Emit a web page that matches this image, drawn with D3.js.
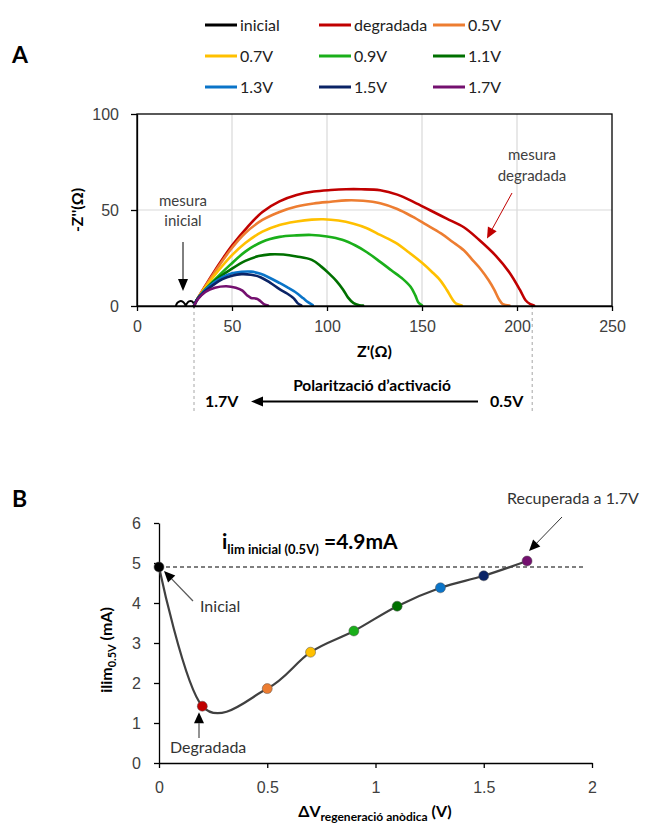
<!DOCTYPE html>
<html>
<head>
<meta charset="utf-8">
<script src="https://cdn.jsdelivr.net/npm/d3@7"></script>
<style>
  body { margin: 0; background: #fff; }
  svg { display: block; font-family: Lato, "Open Sans", sans-serif; }
</style>
</head>
<body>
<svg id="chart" width="649" height="827"></svg>
<script>
// ---------- Panel A: Nyquist spectra ----------
const seriesNames  = ["inicial", "degradada", "0.5V", "0.7V", "0.9V", "1.1V", "1.3V", "1.5V", "1.7V"];
const seriesColors = ["#000000", "#C00000", "#ED7D31", "#FFC000", "#1AAF1A", "#007000", "#0A74C8", "#0B2466", "#74106F"];

// [Z' (Ω), -Z'' (Ω)]
const zInicial = [[20.5,0.2],[21.2,1.6],[22.6,2.5],[24.2,2.2],[25.2,1.0],[25.6,0.1],[26.2,1.2],[27.4,2.4],[29.0,2.4],[29.9,1.2],[30.2,0.1]];
const zDegradada = [[30,0],[31.4,3],[35,9],[40,17],[45,24.5],[50,31.5],[58,41],[66,49],[75,54.5],[84,57.8],[93,59.6],[102,60.4],[110,60.8],[118,60.8],[128,60.3],[137,58],[146,54],[154,50],[163,45.5],[172,41],[180,34.5],[189,26],[196,17.5],[201.5,8.5],[204.5,3],[207,1],[209,0.3]];
const z05 = [[30,0],[31.4,3],[35,8.8],[40,16.3],[49,29],[57,38],[66,44.8],[75,49],[84,51.8],[93,53.4],[102,54.3],[110,55],[119,54.8],[128,53.5],[137,50.5],[145,46.5],[152,42.5],[160,37.8],[166,33.5],[172,29],[177,23.5],[181,19],[185,13.5],[188,8.5],[190.5,3.5],[192.5,1],[196,0.3]];
const z07 = [[30,0],[31.4,3],[35,8.5],[40,15],[49,25.5],[57,32.8],[66,38.7],[75,42.2],[84,44],[92,45],[98,45.2],[106,44.5],[114,42.8],[121,40.5],[128,37],[136,33],[143,28],[150,22.5],[155,18],[159.5,13.5],[163,8.5],[166,3.5],[168,1.2],[171,0.3]];
const z09 = [[30,0],[31.4,3],[35,7.5],[40,12.8],[49,21.4],[57,28.3],[66,33.5],[75,36],[84,36.8],[92,37],[100,36.2],[108,34.5],[115,31.5],[121,28],[128,23],[134,18.5],[140,14],[144,10],[146.5,5.5],[148,2],[150,0.3]];
const z11 = [[30,0],[31.4,3],[36,8.5],[42,14],[49,18.8],[57,23.5],[64,26],[70,26.9],[77,26.8],[84,25.8],[92,24],[97,20.5],[101,17],[105,13],[108.5,8.5],[111,4.5],[114,1.5],[117,0.4],[119,0.2]];
const z13 = [[30,0],[31.4,3],[35,7.5],[40,11.8],[45,15],[50,17],[55,17.8],[60,17.9],[65,16.8],[70,14.6],[75,12],[79,9.8],[84,6.8],[87.5,4],[90,2],[92.5,0.4]];
const z15 = [[30,0],[31.4,3],[35,7],[40,10.9],[45,14],[50,15.8],[55,16.6],[60,16.3],[65,15],[70,12.2],[75,8.8],[79,6.5],[82.5,4],[84.5,1.5],[86.5,0.3]];
const z17 = [[30,0],[32,3.5],[36,7.3],[41,9.5],[47,10.3],[52,9.5],[55.5,8],[58,5.5],[60,4.2],[63,3.8],[65,2.5],[67,0.8],[69,0.2]];
const nyquistSeries = [zInicial, zDegradada, z05, z07, z09, z11, z13, z15, z17];

const xTicksA = [0, 50, 100, 150, 200, 250];
const yTicksA = [0, 50, 100];
const polarisationStart = 208;   // Z' bound of the 0.5V-side guide
const polarisationEnd = 30;      // Z' bound of the 1.7V-side guide

// ---------- Panel B: limiting current vs regeneration voltage ----------
const deltaV = [0, 0.2, 0.5, 0.7, 0.9, 1.1, 1.3, 1.5, 1.7];
const ilim   = [4.9, 1.42, 1.86, 2.77, 3.3, 3.92, 4.38, 4.68, 5.05];
const pointColors = ["#000000", "#C00000", "#ED7D31", "#FFC000", "#1AAF1A", "#007000", "#0A74C8", "#0B2466", "#74106F"];
const xTicksB = [0, 0.5, 1, 1.5, 2];
const yTicksB = [0, 1, 2, 3, 4, 5, 6];
const ilimInicial = 4.9;

const svg = d3.select("#chart");
const tickColor = "#404040";

function arrow(g, x1, y1, x2, y2, opts) {
  const o = Object.assign({ color: "#000", head: "#000", width: 1, len: 10, half: 4.5 }, opts);
  const a = Math.atan2(y2 - y1, x2 - x1);
  const bx = x2 - o.len * Math.cos(a), by = y2 - o.len * Math.sin(a);
  g.append("line").attr("x1", x1).attr("y1", y1).attr("x2", bx).attr("y2", by)
    .attr("stroke", o.color).attr("stroke-width", o.width);
  const px = -Math.sin(a) * o.half, py = Math.cos(a) * o.half;
  g.append("path")
    .attr("d", `M${x2},${y2}L${bx + px},${by + py}L${bx - px},${by - py}Z`)
    .attr("fill", o.head);
}

// ===== Panel A =====
const xA = d3.scaleLinear().domain([0, 250]).range([137, 612]);
const yA = d3.scaleLinear().domain([0, 100]).range([306, 114]);
const gA = svg.append("g");

svg.append("text").attr("x", 12).attr("y", 63).attr("font-size", 23).attr("font-weight", 700).text("A");

// legend
const legend = svg.append("g");
seriesNames.forEach((name, i) => {
  const col = i % 3, row = Math.floor(i / 3);
  const lx = 205 + col * 114, ly = 25 + row * 31;
  legend.append("line").attr("x1", lx).attr("x2", lx + 32).attr("y1", ly).attr("y2", ly)
    .attr("stroke", seriesColors[i]).attr("stroke-width", 3);
  legend.append("text").attr("x", lx + 35).attr("y", ly + 5.5).attr("font-size", 16)
    .attr("fill", "#222").text(name);
});

// grid
gA.append("g").selectAll("line").data(xTicksA.slice(1, -1)).join("line")
  .attr("x1", d => xA(d)).attr("x2", d => xA(d)).attr("y1", yA(0)).attr("y2", yA(100))
  .attr("stroke", "#d9d9d9").attr("stroke-width", 1.2);
gA.append("g").selectAll("line").data(yTicksA.slice(1, -1)).join("line")
  .attr("x1", xA(0)).attr("x2", xA(250)).attr("y1", d => yA(d)).attr("y2", d => yA(d))
  .attr("stroke", "#d9d9d9").attr("stroke-width", 1.2);

// guides for the activation polarisation range
[polarisationEnd, polarisationStart].forEach(v => {
  gA.append("line").attr("x1", xA(v)).attr("x2", xA(v)).attr("y1", yA(0)).attr("y2", 413)
    .attr("stroke", "#a6a6a6").attr("stroke-width", 1).attr("stroke-dasharray", "3,3");
});

// curves
const lineA = d3.line().x(d => xA(d[0])).y(d => yA(d[1])).curve(d3.curveCatmullRom);
nyquistSeries.forEach((s, i) => {
  gA.append("path").attr("d", lineA(s)).attr("fill", "none")
    .attr("stroke", seriesColors[i]).attr("stroke-width", i === 0 ? 2 : 2.6)
    .attr("stroke-linejoin", "round").attr("stroke-linecap", "round");
});

// frame and axes
gA.append("rect").attr("x", xA(0)).attr("y", yA(100)).attr("width", xA(250) - xA(0)).attr("height", yA(0) - yA(100))
  .attr("fill", "none").attr("stroke", "#000").attr("stroke-width", 1.3);
const axYA = gA.append("g").attr("transform", `translate(${xA(0)},0)`)
  .call(d3.axisLeft(yA).tickValues(yTicksA).tickSize(6).tickSizeOuter(0).tickPadding(12));
const axXA = gA.append("g").attr("transform", `translate(0,${yA(0)})`)
  .call(d3.axisBottom(xA).tickValues(xTicksA).tickSize(5).tickSizeOuter(0).tickPadding(10));
[axYA, axXA].forEach(ax => {
  ax.select(".domain").attr("stroke", "#000").attr("stroke-width", 1.3);
  ax.selectAll(".tick line").attr("stroke", "#000").attr("stroke-width", 1.3);
  ax.selectAll("text").attr("font-size", 16).attr("fill", tickColor).attr("font-family", null);
});
axYA.selectAll("text").attr("dy", "0.36em");

svg.append("text").attr("transform", `translate(83,${(yA(0) + yA(100)) / 2}) rotate(-90)`)
  .attr("text-anchor", "middle").attr("font-size", 16).attr("font-weight", 700).text("-Z''(Ω)");
svg.append("text").attr("x", (xA(0) + xA(250)) / 2).attr("y", 357).attr("text-anchor", "middle")
  .attr("font-size", 16).attr("font-weight", 700).text("Z'(Ω)");

// polarisation arrow
svg.append("text").attr("x", 372).attr("y", 390.5).attr("text-anchor", "middle")
  .attr("font-size", 15.5).attr("font-weight", 700).text("Polarització d’activació");
svg.append("text").attr("x", 205).attr("y", 407).attr("font-size", 16).attr("font-weight", 700).text("1.7V");
svg.append("text").attr("x", 490).attr("y", 407).attr("font-size", 16).attr("font-weight", 700).text("0.5V");
arrow(svg, 478, 401.5, 251, 401.5, { width: 2, len: 12, half: 5 });

// annotations
const annA = svg.append("g").attr("font-size", 15).attr("fill", "#404040").attr("text-anchor", "middle");
annA.append("text").attr("x", 183).attr("y", 206).text("mesura");
annA.append("text").attr("x", 183).attr("y", 226).text("inicial");
arrow(svg, 183, 242, 183, 291, { width: 1, len: 12, half: 5 });
annA.append("text").attr("x", 532).attr("y", 160).text("mesura");
annA.append("text").attr("x", 532).attr("y", 181).text("degradada");
arrow(svg, 512, 193, 487, 238.5, { color: "#C00000", head: "#C00000", width: 1, len: 11, half: 5 });

// ===== Panel B =====
const xB = d3.scaleLinear().domain([0, 2]).range([159, 592]);
const yB = d3.scaleLinear().domain([0, 6]).range([763, 523]);
const gB = svg.append("g");

svg.append("text").attr("x", 12).attr("y", 507).attr("font-size", 23).attr("font-weight", 700).text("B");

const axYB = gB.append("g").attr("transform", `translate(${xB(0)},0)`)
  .call(d3.axisLeft(yB).tickValues(yTicksB).tickSize(5).tickSizeOuter(0).tickPadding(13).tickFormat(d3.format("d")));
const axXB = gB.append("g").attr("transform", `translate(0,${yB(0)})`)
  .call(d3.axisBottom(xB).tickValues(xTicksB).tickSize(5).tickSizeOuter(0).tickPadding(14).tickFormat(d => String(d)));
[axYB, axXB].forEach(ax => {
  ax.select(".domain").attr("stroke", "#000").attr("stroke-width", 1.3);
  ax.selectAll(".tick line").attr("stroke", "#000").attr("stroke-width", 1.3);
  ax.selectAll("text").attr("font-size", 16).attr("fill", tickColor).attr("font-family", null);
});
axYB.selectAll("text").attr("dy", "0.36em");

// reference current
gB.append("line").attr("x1", xB(0)).attr("x2", 585).attr("y1", yB(ilimInicial)).attr("y2", yB(ilimInicial))
  .attr("stroke", "#000").attr("stroke-width", 1.2).attr("stroke-dasharray", "4,3");

const pts = deltaV.map((v, i) => [v, ilim[i]]);
gB.append("path")
  .attr("d", d3.line().x(d => xB(d[0])).y(d => yB(d[1])).curve(d3.curveCardinal.tension(0))(pts))
  .attr("fill", "none").attr("stroke", "#404040").attr("stroke-width", 2.2);
gB.append("g").selectAll("circle").data(pts).join("circle")
  .attr("cx", d => xB(d[0])).attr("cy", d => yB(d[1])).attr("r", 5)
  .attr("fill", (d, i) => pointColors[i]).attr("stroke", "#555").attr("stroke-width", 0.5);

// i_lim label
const il = svg.append("text").attr("x", 222).attr("y", 549).attr("font-weight", 700).attr("fill", "#000");
il.append("tspan").attr("font-size", 21).text("i");
il.append("tspan").attr("font-size", 13).attr("dy", 5).text("lim inicial (0.5V)");
il.append("tspan").attr("font-size", 21).attr("dy", -5).text(" =4.9mA");

// axis titles
const yt = svg.append("text").attr("transform", `translate(112,650) rotate(-90)`)
  .attr("text-anchor", "middle").attr("font-weight", 700).attr("font-size", 16);
yt.append("tspan").text("ilim");
yt.append("tspan").attr("font-size", 11).attr("dy", 4).text("0.5V");
yt.append("tspan").attr("dy", -4).text(" (mA)");

const xt = svg.append("text").attr("x", 375).attr("y", 817).attr("text-anchor", "middle").attr("font-weight", 700).attr("font-size", 16);
xt.append("tspan").text("ΔV");
xt.append("tspan").attr("font-size", 12).attr("dy", 3.5).text("regeneració anòdica");
xt.append("tspan").attr("dy", -3.5).text(" (V)");

// point annotations
const annB = svg.append("g").attr("font-size", 16).attr("fill", "#333");
annB.append("text").attr("x", 200).attr("y", 612).text("Inicial");
arrow(svg, 193, 601, xB(0) + 5, yB(ilim[0]) + 4, { color: "#595959", width: 1.3, len: 11, half: 5 });
annB.append("text").attr("x", 170).attr("y", 753).text("Degradada");
arrow(svg, 199, 738, 199, yB(ilim[1]) + 6, { color: "#595959", width: 1.3, len: 11, half: 5 });
annB.append("text").attr("x", 507).attr("y", 504).text("Recuperada a 1.7V");
arrow(svg, 562, 517, xB(deltaV[8]) + 2, yB(ilim[8]) - 10, { color: "#333", width: 1, len: 11, half: 5 });
</script>
</body>
</html>
